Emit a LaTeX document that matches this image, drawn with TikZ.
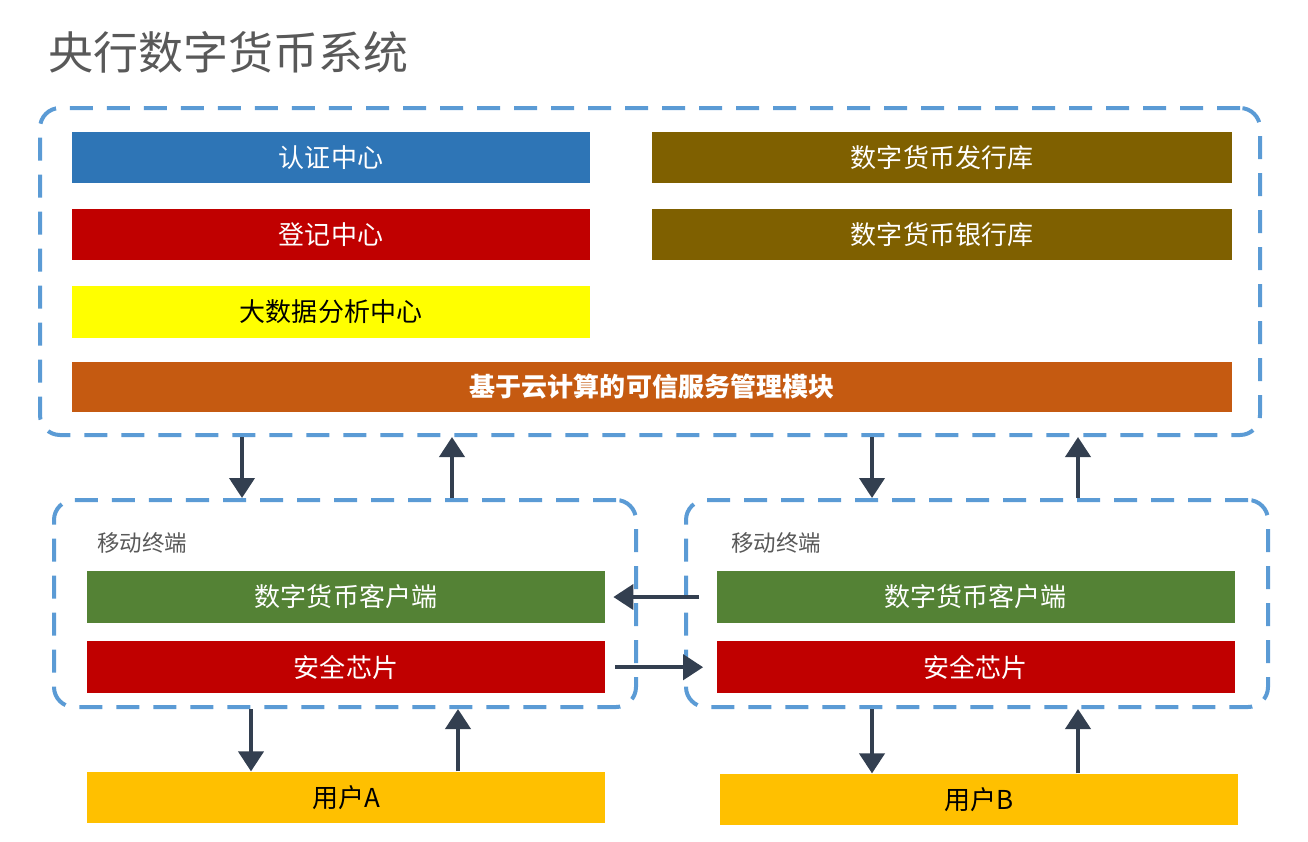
\documentclass[tikz,border=0pt]{standalone}
\usepackage{fontspec}
\setmainfont{Noto Sans CJK SC}
\usepackage{xcolor}
\usepackage{tikz}
\usetikzlibrary{arrows.meta, positioning}
\definecolor{mydash}{RGB}{91,155,213}
\definecolor{myblue}{RGB}{46,117,182}
\definecolor{myred}{RGB}{192,0,0}
\definecolor{myyellow}{RGB}{255,255,0}
\definecolor{myolive}{RGB}{127,96,0}
\definecolor{myorange}{RGB}{197,90,17}
\definecolor{mygreen}{RGB}{84,130,53}
\definecolor{mygold}{RGB}{255,192,0}
\definecolor{myarrow}{RGB}{51,63,80}
\definecolor{mygray}{RGB}{89,89,89}
\newcommand{\barfont}{\fontsize{14.8}{16}\selectfont}
\newcommand{\titlefont}{\fontsize{25.6}{28}\selectfont}
\newcommand{\tagfont}{\fontsize{12.8}{14}\selectfont}
\tikzset{
  dashbox/.style={rectangle, draw=mydash, line width=0.08cm,
    dash pattern=on 0.46cm off 0.28cm, rounded corners=0.4cm},
  bar/.style={rectangle, minimum width=10.36cm, minimum height=1.03cm,
    inner sep=0pt, text=white, font=\barfont},
  widebar/.style={bar, minimum width=11.6cm},
  fullbar/.style={bar, minimum width=23.2cm, minimum height=1.0cm},
  tag/.style={font=\tagfont, text=mygray, inner sep=0pt},
  title/.style={font=\titlefont, text=mygray, inner sep=0pt},
  arrow/.style={-{Triangle[length=0.4cm, width=0.5cm]}, line width=0.08cm, color=myarrow}
}

\begin{document}
\begin{tikzpicture}
  \useasboundingbox (0,0) rectangle (26.16,-16.82);

  % Title
  \node[title, anchor=west] (title) at (0.96,-1.04) {央行数字货币系统};

  % Central bank system
  \node[dashbox, minimum width=24.4cm, minimum height=6.54cm] (outer) at (13.0,-5.43) {};
  \node[bar, fill=myblue] (auth) at (6.62,-3.15) {认证中心};
  \node[bar, fill=myred, below=0.5cm of auth] (reg) {登记中心};
  \node[bar, fill=myyellow, text=black, below=0.5cm of reg] (bigdata) {大数据分析中心};
  \node[widebar, fill=myolive] (issue) at (18.84,-3.15) {数字货币发行库};
  \node[widebar, fill=myolive, below=0.5cm of issue] (bank) {数字货币银行库};
  \node[fullbar, fill=myorange, font=\barfont\bfseries] (cloud) at (13.04,-7.74) {基于云计算的可信服务管理模块};

  % Mobile terminals
  \node[dashbox, minimum width=11.64cm, minimum height=4.14cm] (termA) at (6.9,-12.07) {};
  \node[dashbox, minimum width=11.64cm, minimum height=4.14cm] (termB) at (19.54,-12.07) {};
  \node[tag, anchor=west] (tagA) at (1.94,-10.86) {移动终端};
  \node[tag, anchor=west] (tagB) at (14.62,-10.86) {移动终端};
  \node[bar, fill=mygreen] (clientA) at (6.92,-11.94) {数字货币客户端};
  \node[bar, fill=myred, below=0.36cm of clientA] (chipA) {安全芯片};
  \node[bar, fill=mygreen] (clientB) at (19.51,-11.94) {数字货币客户端};
  \node[bar, fill=myred, below=0.36cm of clientB] (chipB) {安全芯片};

  % Users
  \node[bar, fill=mygold, text=black] (userA) at (6.92,-15.95) {用户A};
  \node[bar, fill=mygold, text=black] (userB) at (19.58,-15.99) {用户B};

  % System <-> terminals
  \draw[arrow] ([xshift=-2.06cm]termA.north |- outer.south) -- ([xshift=-2.06cm]termA.north);
  \draw[arrow] ([xshift=2.14cm]termA.north) -- ([xshift=2.14cm]termA.north |- outer.south);
  \draw[arrow] ([xshift=-2.1cm]termB.north |- outer.south) -- ([xshift=-2.1cm]termB.north);
  \draw[arrow] ([xshift=2.02cm]termB.north) -- ([xshift=2.02cm]termB.north |- outer.south);

  % Terminal <-> terminal
  \draw[arrow] ([xshift=-0.34cm]clientB.west) -- ([xshift=0.16cm]clientA.east);
  \draw[arrow] ([xshift=0.2cm]chipA.east) -- ([xshift=-0.26cm]chipB.west);

  % Terminals <-> users
  \draw[arrow] ([xshift=-1.88cm]termA.south) -- ([xshift=-1.88cm]termA.south |- userA.north);
  \draw[arrow] ([xshift=2.26cm]termA.south |- userA.north) -- ([xshift=2.26cm]termA.south);
  \draw[arrow] ([xshift=-2.1cm]termB.south) -- ([xshift=-2.1cm]termB.south |- userB.north);
  \draw[arrow] ([xshift=2.02cm]termB.south |- userB.north) -- ([xshift=2.02cm]termB.south);
\end{tikzpicture}
\end{document}
